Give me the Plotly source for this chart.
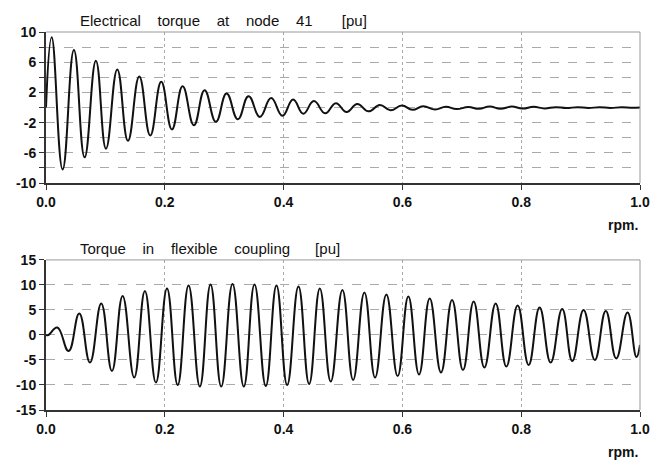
import plotly.graph_objects as go
from plotly.subplots import make_subplots

# Electrical torque at node 41 [pu] -- extrema
t_elec = [0.0, 0.0096, 0.028, 0.047, 0.065, 0.084, 0.101, 0.120, 0.138, 0.157,
          0.1755, 0.194, 0.212, 0.230, 0.249, 0.267, 0.286, 0.304, 0.323, 0.341,
          0.360, 0.379, 0.398, 0.416, 0.433, 0.451, 0.470, 0.488, 0.506, 0.524,
          0.543, 0.562, 0.580, 0.599, 0.617, 0.635, 0.655, 0.673, 0.691, 0.711,
          0.729, 0.747, 0.765, 0.784, 0.802, 0.821, 0.839, 0.858, 0.876, 0.895,
          0.913, 0.932, 0.950, 0.969, 0.987, 1.0]
v_elec = [0.0, 9.3, -8.2, 7.6, -6.6, 6.2, -5.45, 5.05, -4.4, 4.1,
          -3.7, 3.4, -2.9, 2.8, -2.35, 2.3, -1.9, 1.85, -1.55, 1.5,
          -1.25, 1.25, -1.1, 1.05, -0.82, 0.85, -0.77, 0.58, -0.6, 0.45,
          -0.51, 0.34, -0.38, 0.26, -0.3, 0.17, -0.26, 0.1, -0.21, 0.06,
          -0.17, 0.13, -0.17, 0.12, -0.13, 0.09, -0.12, 0.05, -0.08, 0.05,
          -0.07, 0.04, -0.06, 0.03, -0.04, 0.0]

# Torque in flexible coupling [pu] -- extrema
t_coup = [0.0, 0.004, 0.019, 0.038, 0.056, 0.074, 0.093, 0.111, 0.129, 0.1485,
          0.1665, 0.185, 0.2037, 0.2217, 0.240, 0.259, 0.277, 0.295, 0.314, 0.333,
          0.351, 0.370, 0.388, 0.406, 0.425, 0.443, 0.461, 0.4794, 0.499, 0.517,
          0.536, 0.554, 0.573, 0.592, 0.610, 0.628, 0.646, 0.665, 0.6836, 0.702,
          0.720, 0.738, 0.757, 0.775, 0.794, 0.8125, 0.831, 0.8496, 0.869, 0.886,
          0.905, 0.924, 0.9424, 0.960, 0.979, 0.994, 1.0]
v_coup = [0.0, 0.0, 1.5, -3.2, 4.3, -5.5, 6.3, -7.2, 7.8, -8.5,
          8.8, -9.5, 9.3, -10.0, 9.9, -10.3, 10.1, -10.3, 10.2, -10.3,
          10.1, -10.2, 9.9, -10.0, 9.7, -9.8, 9.3, -9.3, 9.0, -9.0,
          8.5, -8.5, 8.1, -8.2, 7.7, -7.9, 7.3, -7.5, 7.0, -7.0,
          6.7, -6.5, 6.3, -6.3, 5.9, -6.0, 5.5, -5.5, 5.2, -5.2,
          5.0, -5.0, 4.8, -4.7, 4.5, -4.4, -2.0]

x_ticks = [0.0, 0.2, 0.4, 0.6, 0.8, 1.0]
x_labels = ["0.0", "0.2", "0.4", "0.6", "0.8", "1.0"]
y1_ticks = [-10, -8, -6, -4, -2, 0, 2, 4, 6, 8, 10]
y1_labels = ["-10", "", "-6", "", "-2", "", "2", "", "6", "", "10"]
y2_ticks = [-15, -10, -5, 0, 5, 10, 15]
y2_labels = ["-15", "-10", "-5", "0", "5", "10", "15"]

S = "\u00a0"
title1 = (S * 4).join(["Electrical", "torque", "at", "node", "41"]) + S * 7 + "[pu]"
title2 = (S * 4).join(["Torque", "in", "flexible", "coupling"]) + S * 6 + "[pu]"

fig = make_subplots(rows=2, cols=1, vertical_spacing=0.2)
line = dict(color="#111111", width=2, shape="spline", smoothing=1.3)
fig.add_trace(go.Scatter(x=t_elec, y=v_elec, mode="lines", line=line, showlegend=False), row=1, col=1)
fig.add_trace(go.Scatter(x=t_coup, y=v_coup, mode="lines", line=line, showlegend=False), row=2, col=1)

tickfont = dict(family="Liberation Sans, Arial", size=14, color="#111111", weight="bold")
common_x = dict(range=[0, 1], tickvals=x_ticks, ticktext=x_labels, showline=True,
                linecolor="#333333", linewidth=2, ticks="outside", ticklen=5,
                tickcolor="#333333", showgrid=True, gridcolor="#aaaaaa", griddash="dot",
                gridwidth=1, zeroline=False, tickfont=tickfont, automargin=False)
common_y = dict(showline=True, linecolor="#333333", linewidth=2, ticks="outside",
                ticklen=5, tickcolor="#333333", showgrid=True, gridcolor="#aaaaaa",
                griddash="dash", gridwidth=1, zeroline=False, tickfont=tickfont,
                automargin=False)

fig.update_xaxes(**common_x)
fig.update_yaxes(**common_y)
fig.update_yaxes(range=[-10, 10], tickvals=y1_ticks, ticktext=y1_labels, row=1, col=1)
fig.update_yaxes(range=[-15, 15], tickvals=y2_ticks, ticktext=y2_labels, row=2, col=1)

fig.update_layout(
    width=655, height=460,
    margin=dict(l=46, r=15, t=32, b=50),
    paper_bgcolor="white", plot_bgcolor="white",
    yaxis=dict(domain=[0.6005, 1.0]),
    yaxis2=dict(domain=[0.0, 0.397]),
    font=dict(family="Liberation Sans, Arial", color="#111111"),
)

# thin grey top/right frame
for xr, yr in [("x domain", "y domain"), ("x2 domain", "y2 domain")]:
    fig.add_shape(type="line", xref=xr, yref=yr, x0=0, x1=1, y0=1, y1=1,
                  line=dict(color="#999999", width=1))
    fig.add_shape(type="line", xref=xr, yref=yr, x0=1, x1=1, y0=0, y1=1,
                  line=dict(color="#999999", width=1))

fig.add_annotation(text=title1, xref="paper", yref="paper", x=(78 - 46) / 594, y=1.0,
                   xanchor="left", yanchor="bottom", yshift=1, showarrow=False,
                   font=dict(size=15, family="Liberation Sans, Arial", color="#111111"))
fig.add_annotation(text=title2, xref="paper", yref="paper", x=(78 - 46) / 594, y=0.397,
                   xanchor="left", yanchor="bottom", yshift=1, showarrow=False,
                   font=dict(size=15, family="Liberation Sans, Arial", color="#111111"))
for yy in [0.6005, 0.0]:
    fig.add_annotation(text="<b>rpm.</b>", xref="paper", yref="paper", x=1.0, y=yy,
                       xanchor="right", yanchor="top", yshift=-32, showarrow=False,
                       font=dict(size=14, family="Liberation Sans, Arial", color="#111111"))

fig.write_html("out.html")
